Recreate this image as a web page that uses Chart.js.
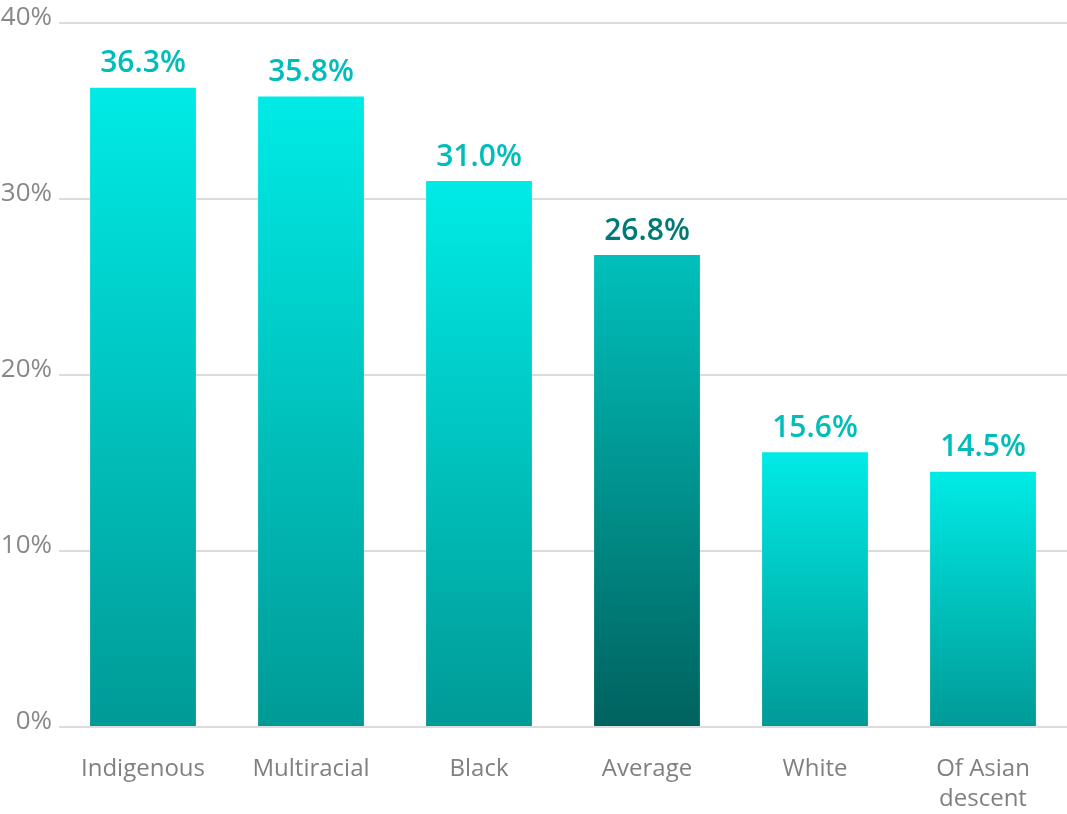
<!DOCTYPE html>
<html lang="en">
<head>
  <meta charset="UTF-8" />
  <title>Share by group</title>
  <script src="https://cdn.jsdelivr.net/npm/chart.js"></script>
  <style>
    html, body { margin: 0; padding: 0; background: #fff; }
    .chart-wrap { width: 1067px; height: 814px; position: relative; }
  </style>
</head>
<body>
  <div class="chart-wrap">
    <canvas id="groupChart"></canvas>
  </div>

  <script>
    const categories = ['Indigenous', 'Multiracial', 'Black', 'Average', 'White', ['Of Asian', 'descent']];
    const values = [36.3, 35.8, 31.0, 26.8, 15.6, 14.5];
    const yTicks = [0, 10, 20, 30, 40];
    const highlightIndex = 3; // the "Average" bar is darker

    // gradient from bar top down to the axis
    function barFill(context) {
      const chart = context.chart;
      if (!chart.chartArea) return null;
      const i = context.dataIndex;
      const y = chart.scales.y;
      const top = y.getPixelForValue(values[i]);
      const bottom = y.getPixelForValue(0);
      const g = chart.ctx.createLinearGradient(0, top, 0, bottom);
      if (i === highlightIndex) {
        g.addColorStop(0, '#00c0bc');
        g.addColorStop(1, '#00625e');
      } else {
        g.addColorStop(0, '#00ebe6');
        g.addColorStop(1, '#009a96');
      }
      return g;
    }

    // value labels above each bar
    const valueLabels = {
      id: 'valueLabels',
      afterDatasetsDraw(chart) {
        const ctx = chart.ctx;
        const meta = chart.getDatasetMeta(0);
        ctx.save();
        ctx.font = '600 30px "Open Sans"';
        ctx.textAlign = 'center';
        ctx.textBaseline = 'bottom';
        meta.data.forEach((bar, i) => {
          ctx.fillStyle = i === highlightIndex ? '#007a76' : '#00bdba';
          ctx.fillText(values[i].toFixed(1) + '%', bar.x, bar.y - 9);
        });
        ctx.restore();
      }
    };

    new Chart(document.getElementById('groupChart'), {
      type: 'bar',
      data: {
        labels: categories,
        datasets: [{
          data: values,
          backgroundColor: barFill,
          borderWidth: 0,
          barPercentage: 0.63,
          categoryPercentage: 1
        }]
      },
      options: {
        responsive: true,
        maintainAspectRatio: false,
        animation: false,
        layout: { padding: { top: 0, right: 0, left: 0, bottom: 0 } },
        plugins: {
          legend: { display: false },
          tooltip: { enabled: false }
        },
        scales: {
          x: {
            grid: { display: false, drawTicks: false },
            border: { display: false },
            afterFit: scale => { scale.height = 87; },
            ticks: {
              color: '#808080',
              font: { family: 'Open Sans', size: 24, lineHeight: 1.25 },
              padding: 27,
              maxRotation: 0
            }
          },
          y: {
            min: 0,
            max: 40,
            afterBuildTicks: scale => { scale.ticks = yTicks.map(v => ({ value: v })); },
            afterFit: scale => { scale.width = 59; },
            grid: { color: '#dcdcdc', lineWidth: 2, drawTicks: false },
            border: { display: false },
            ticks: {
              color: '#888888',
              font: { family: 'Open Sans', size: 26 },
              padding: 7,
              labelOffset: -5,
              callback: v => v + '%'
            }
          }
        }
      },
      plugins: [valueLabels]
    });
  </script>
</body>
</html>
